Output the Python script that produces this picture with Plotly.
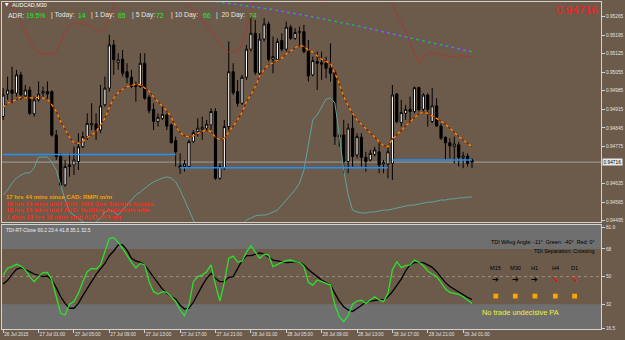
import plotly.graph_objects as go

# ---------------- DATA (AUDCAD, M30) ----------------
open_ = [0.94888,0.94973,0.94988,0.94976,0.95045,0.94966,0.94988,0.94898,0.94951,0.94976,
         0.94982,0.94982,0.94818,0.94737,0.94630,0.94699,0.94705,0.94718,0.94774,0.94812,
         0.94856,0.94860,0.94837,0.94932,0.94995,0.95158,0.95091,0.95104,0.95057,0.95036,
         0.95007,0.95001,0.95089,0.94961,0.94915,0.94869,0.94881,0.94894,0.94856,0.94797,
         0.94695,0.94699,0.94699,0.94793,0.94831,0.94840,0.94844,0.94856,0.94907,0.94655,
         0.94693,0.94850,0.95057,0.94982,0.94938,0.95036,0.95142,0.95202,0.95051,0.95180,
         0.95237,0.95104,0.95104,0.95175,0.95142,0.95225,0.95183,0.95205,0.95208,0.95133,
         0.95045,0.95095,0.95091,0.95089,0.95070,0.95054,0.94810,0.94818,0.94718,0.94844,
         0.94743,0.94810,0.94734,0.94724,0.94745,0.94755,0.94709,0.94709,0.94711,0.94973,
         0.94865,0.94900,0.94915,0.94907,0.94997,0.94915,0.94969,0.94869,0.94928,0.94852,
         0.94810,0.94789,0.94774,0.94781,0.94732,0.94739,0.94724]
high = [0.94995,0.95039,0.95076,0.95064,0.95057,0.95007,0.95001,0.94963,0.95020,0.95001,
        0.95020,0.94986,0.94837,0.94749,0.94724,0.94749,0.94774,0.94825,0.94831,0.94900,
        0.94938,0.94900,0.95007,0.95039,0.95196,0.95177,0.95127,0.95139,0.95089,0.95064,
        0.95020,0.95127,0.95127,0.94969,0.94938,0.94900,0.94932,0.94900,0.94862,0.94812,
        0.94749,0.94724,0.94800,0.94837,0.94881,0.94888,0.94875,0.94919,0.94919,0.94711,
        0.94875,0.95171,0.95089,0.95026,0.95045,0.95158,0.95265,0.95252,0.95202,0.95259,
        0.95246,0.95190,0.95183,0.95202,0.95246,0.95234,0.95221,0.95227,0.95234,0.95177,
        0.95114,0.95133,0.95133,0.95114,0.95164,0.95064,0.94825,0.94875,0.94862,0.94894,
        0.94825,0.94825,0.94755,0.94762,0.94774,0.94787,0.94724,0.94774,0.95007,0.94976,
        0.94951,0.94932,0.94963,0.95001,0.95001,0.94976,0.94976,0.94995,0.94957,0.94862,
        0.94812,0.94806,0.94812,0.94793,0.94755,0.94749,0.94730]
low = [0.94875,0.94951,0.94938,0.94963,0.94951,0.94957,0.94894,0.94888,0.94944,0.94963,
       0.94951,0.94812,0.94724,0.94623,0.94623,0.94661,0.94667,0.94686,0.94768,0.94800,
       0.94837,0.94800,0.94825,0.94925,0.94982,0.95045,0.95064,0.95039,0.95013,0.94995,
       0.94944,0.94995,0.94951,0.94900,0.94837,0.94850,0.94875,0.94837,0.94787,0.94699,
       0.94671,0.94680,0.94693,0.94787,0.94812,0.94800,0.94837,0.94837,0.94649,0.94649,
       0.94686,0.94837,0.94969,0.94925,0.94932,0.95026,0.95133,0.95045,0.95039,0.95171,
       0.95095,0.95051,0.95095,0.95133,0.95133,0.95177,0.95177,0.95152,0.95127,0.95020,
       0.95039,0.94988,0.95026,0.95032,0.95020,0.94781,0.94774,0.94674,0.94674,0.94699,
       0.94730,0.94699,0.94680,0.94718,0.94737,0.94674,0.94674,0.94655,0.94649,0.94862,
       0.94850,0.94875,0.94869,0.94900,0.94907,0.94907,0.94850,0.94862,0.94850,0.94800,
       0.94724,0.94730,0.94711,0.94699,0.94693,0.94699,0.94693]
close = [0.94969,0.94988,0.94976,0.95045,0.94969,0.94988,0.94900,0.94951,0.94973,0.94982,
         0.94973,0.94818,0.94737,0.94630,0.94699,0.94705,0.94724,0.94774,0.94812,0.94862,
         0.94862,0.94837,0.94928,0.94995,0.95158,0.95102,0.95102,0.95051,0.95036,0.95001,
         0.95001,0.95089,0.94957,0.94910,0.94869,0.94885,0.94896,0.94852,0.94789,0.94755,
         0.94703,0.94709,0.94793,0.94827,0.94844,0.94847,0.94859,0.94907,0.94655,0.94699,
         0.94850,0.95057,0.94978,0.94938,0.95036,0.95142,0.95202,0.95054,0.95180,0.95237,
         0.95104,0.95114,0.95171,0.95142,0.95225,0.95183,0.95205,0.95208,0.95133,0.95041,
         0.95099,0.95089,0.95085,0.95070,0.95051,0.94812,0.94818,0.94718,0.94844,0.94737,
         0.94812,0.94734,0.94718,0.94749,0.94762,0.94705,0.94714,0.94755,0.94969,0.94869,
         0.94903,0.94915,0.94907,0.94997,0.94913,0.94969,0.94915,0.94928,0.94852,0.94806,
         0.94789,0.94777,0.94784,0.94734,0.94739,0.94711,0.94716]

ma_fast = [0.94922,0.94938,0.94944,0.94953,0.94961,0.94958,0.94957,0.94958,0.94961,0.94958,
           0.94953,0.94932,0.94907,0.94869,0.94837,0.94810,0.94789,0.94787,0.94793,0.94810,
           0.94818,0.94831,0.94856,0.94881,0.94923,0.94957,0.94978,0.94991,0.95000,0.95006,
           0.95010,0.95008,0.94997,0.94984,0.94961,0.94944,0.94928,0.94910,0.94885,0.94852,
           0.94827,0.94815,0.94812,0.94815,0.94825,0.94833,0.94835,0.94831,0.94810,0.94800,
           0.94806,0.94831,0.94852,0.94875,0.94903,0.94944,0.94969,0.95001,0.95041,0.95066,
           0.95084,0.95090,0.95098,0.95108,0.95124,0.95137,0.95147,0.95157,0.95152,0.95139,
           0.95131,0.95117,0.95104,0.95096,0.95089,0.95051,0.95013,0.94963,0.94928,0.94900,
           0.94875,0.94859,0.94842,0.94825,0.94808,0.94793,0.94778,0.94774,0.94803,0.94821,
           0.94835,0.94852,0.94869,0.94884,0.94898,0.94905,0.94900,0.94891,0.94881,0.94871,
           0.94859,0.94845,0.94828,0.94812,0.94800,0.94787,0.94774]

band_upper = [0.95317,0.95309,0.95298,0.95275,0.95245,0.95207,0.95173,0.95147,0.95128,0.95124,
              0.95124,0.95124,0.95132,0.95169,0.95207,0.95234,0.95241,0.95241,0.95237,0.95234,
              0.95226,0.95215,0.95203,0.95222,0.95260,0.95309,0.95347,0.95373,0.95396,0.95411,
              0.95422,0.95430,0.95434,0.95434,0.95430,0.95422,0.95411,0.95396,0.95381,0.95366,
              0.95347,0.95328,0.95309,0.95290,0.95271,0.95249,0.95230,0.95211,0.95188,0.95166,
              0.95143,0.95132,0.95132,0.95135,0.95158,0.95215,0.95283,0.95336,0.95358,0.95373,
              0.95381,0.95385,0.95385,0.95381,0.95373,0.95366,0.95358,0.95351,0.95343,0.95336,
              0.95328,0.95324,0.95320,0.95320,0.95324,0.95332,0.95339,0.95351,0.95362,0.95373,
              0.95385,0.95392,0.95396,0.95392,0.95385,0.95370,0.95354,0.95336,0.95309,0.95275,
              0.95245,0.95207,0.95169,0.95120,0.95090,0.95113,0.95124,0.95128,0.95124,0.95120,
              0.95117,0.95113,0.95113,0.95117,0.95117,0.95113,0.95113]
band_lower = [0.94592,0.94611,0.94637,0.94656,0.94667,0.94675,0.94675,0.94694,0.94735,0.94735,
              0.94735,0.94716,0.94686,0.94630,0.94573,0.94528,0.94516,0.94505,0.94490,0.94479,
              0.94479,0.94490,0.94505,0.94528,0.94535,0.94528,0.94516,0.94535,0.94554,0.94573,
              0.94592,0.94603,0.94618,0.94630,0.94641,0.94649,0.94656,0.94660,0.94656,0.94641,
              0.94611,0.94573,0.94535,0.94498,0.94460,0.94422,0.94403,0.94384,0.94377,0.94384,
              0.94403,0.94422,0.94441,0.94460,0.94479,0.94498,0.94505,0.94513,0.94516,0.94516,
              0.94520,0.94528,0.94535,0.94554,0.94573,0.94592,0.94611,0.94637,0.94686,0.94781,
              0.94875,0.94894,0.94924,0.94954,0.94958,0.94939,0.94818,0.94686,0.94592,0.94535,
              0.94528,0.94524,0.94524,0.94528,0.94528,0.94531,0.94535,0.94535,0.94539,0.94543,
              0.94547,0.94550,0.94554,0.94554,0.94558,0.94562,0.94565,0.94565,0.94569,0.94573,
              0.94573,0.94577,0.94577,0.94581,0.94581,0.94584,0.94584]

slow_ma_x = [40, 50, 60, 70, 80, 90, 100, 106]
slow_ma = [0.95339, 0.95317, 0.95294, 0.95264, 0.95230, 0.95192, 0.95154, 0.95132]

day_open_start = [0, 40, 88]
day_open_end = [39, 87, 106]
day_open = [0.94745, 0.94695, 0.94724]

tdi_green = [51.0,55.6,56.5,58.0,56.9,54.3,50.0,46.7,50.0,52.6,
             52.8,47.8,36.9,26.1,25.0,32.0,33.7,39.1,46.7,53.2,
             55.4,55.0,57.6,66.7,74.9,75.4,72.3,68.4,63.6,59.3,
             55.8,58.6,57.6,46.7,40.2,38.7,40.2,39.8,36.9,33.7,
             28.3,24.6,31.5,46.7,50.0,51.0,53.2,57.6,44.5,34.1,
             46.3,61.9,63.3,59.5,60.0,66.0,70.1,65.8,61.9,64.5,
             64.1,56.5,58.0,59.3,60.4,60.8,59.7,59.3,56.5,46.3,
             44.5,47.8,46.7,45.6,44.5,31.5,23.9,20.7,24.6,32.0,
             34.1,34.6,32.6,34.8,36.9,34.8,33.7,39.1,54.3,59.7,
             55.8,57.1,57.6,60.8,59.3,57.1,53.7,51.7,50.0,46.3,
             41.9,39.8,39.1,38.5,36.9,34.8,32.5]
tdi_black = [45.2,47.6,51.5,54.7,55.8,54.7,53.2,51.7,50.6,50.0,
             50.4,47.8,42.8,36.9,32.6,29.4,29.4,32.6,37.6,42.4,
             46.7,51.5,55.0,58.6,63.6,66.7,70.6,70.6,67.3,61.9,
             60.2,59.3,57.6,53.7,50.0,45.6,41.9,39.1,36.9,35.4,
             31.5,28.9,29.4,33.3,39.1,44.1,48.9,52.1,48.9,46.7,
             46.7,49.5,50.0,55.0,60.4,63.6,63.6,64.5,65.4,64.7,
             62.5,60.8,60.2,59.7,59.1,59.3,59.7,59.3,57.6,54.7,
             52.1,50.0,47.8,46.3,44.5,39.1,34.1,30.4,28.3,27.2,
             29.4,31.5,33.3,34.1,34.6,34.8,34.8,36.9,40.2,44.1,
             48.4,53.7,57.6,59.3,59.3,59.1,57.6,56.0,53.2,49.5,
             46.1,43.5,41.7,40.2,38.0,36.5,35.1]
tdi_header = [60.2, 23.4, 41.8]
tdi_levels = [32, 50, 68]
tdi_range = [15.9, 83.6]
tdi_ticks = [16.5, 32, 50, 68, 81.9]
tdi_ticktext = ["16.5", "32", "50", "68", "81.9"]

price_range = [0.94490, 0.95320]
price_ticks = [0.94495, 0.94565, 0.94635, 0.94775, 0.94845,
               0.94915, 0.94985, 0.95055, 0.95125, 0.95195, 0.95265]

time_idx = [0, 8, 16, 24, 32, 40, 48, 56, 64, 72, 80, 88, 96, 104]
time_labels = ["26 Jul 2015", "27 Jul 01:00", "27 Jul 05:00", "27 Jul 09:00",
               "27 Jul 13:00", "27 Jul 17:00", "27 Jul 21:00", "28 Jul 01:00",
               "28 Jul 05:00", "28 Jul 09:00", "28 Jul 13:00", "28 Jul 17:00",
               "28 Jul 21:00", "29 Jul 01:00"]

adr_labels = ["ADR:", "| Today:", "| 1 Day:", "| 5 Day:", "| 10 Day:", "|  20 Day:"]
adr_values = ["19.5%", "14", "65", "72", "66", "74"]

news_lines = ["17 hrs 44 mins since CAD: RMPI m/m",
              "18 hrs 16 mins until AUD: RBA Gov Stevens Speaks",
              "18 hrs 16 mins until AUD: Building Approvals m/m",
              "1 days 19 hrs 16 mins until AUD: PPI q/q"]
news_colors = ["#F0A000", "#FF2A1A", "#FF2A1A", "#FF2A1A"]

tf_names = ["M15", "M30", "H1", "H4", "D1"]
tf_arrows = ["\u2794", "\u2794", "\u2794", "\u2798", "\u2798"]
tf_arrow_colors = ["#000000", "#000000", "#000000", "#FF0000", "#FF0000"]

# ---------------- LAYOUT HELPERS ----------------
W, H = 625, 340
ML, MR, MT, MB = 1, 23, 2, 11
PW, PH = W - ML - MR, H - MT - MB


def px(x):
    return (x - ML) / PW


def py(y):
    return (H - MB - y) / PH


BG = "#6C5B4A"
GRAYZ = "#6F6F6F"
FONT = "Liberation Sans"
bars = list(range(len(close)))

fig = go.Figure()

fig.add_trace(go.Candlestick(
    x=bars, open=open_, high=high, low=low, close=close,
    increasing=dict(line=dict(color="#000000", width=1), fillcolor="#FFFFFF"),
    decreasing=dict(line=dict(color="#000000", width=1), fillcolor="#000000"),
    whiskerwidth=0, xaxis="x", yaxis="y", hoverinfo="skip", showlegend=False))

# bands
fig.add_trace(go.Scatter(x=bars, y=band_upper, mode="lines",
                         line=dict(color="#A33A34", width=1), xaxis="x", yaxis="y", showlegend=False))
fig.add_trace(go.Scatter(x=bars, y=band_lower, mode="lines",
                         line=dict(color="#5FA3A0", width=1), xaxis="x", yaxis="y", showlegend=False))
# slow MA (purple/green)
fig.add_trace(go.Scatter(x=slow_ma_x, y=slow_ma, mode="lines",
                         line=dict(color="#8A2BE2", width=1.4), xaxis="x", yaxis="y", showlegend=False))
fig.add_trace(go.Scatter(x=slow_ma_x, y=slow_ma, mode="lines",
                         line=dict(color="#22C022", width=1.4, dash="dot"), xaxis="x", yaxis="y", showlegend=False))
# fast MA (dark red / orange dotted)
fig.add_trace(go.Scatter(x=bars, y=ma_fast, mode="lines",
                         line=dict(color="#8E1C06", width=1.2), xaxis="x", yaxis="y", showlegend=False))
fig.add_trace(go.Scatter(x=bars, y=ma_fast, mode="lines",
                         line=dict(color="#F29A12", width=1.2, dash="dot"), xaxis="x", yaxis="y", showlegend=False))
# daily open lines
for s, e, v in zip(day_open_start, day_open_end, day_open):
    fig.add_trace(go.Scatter(x=[s, e], y=[v, v], mode="lines",
                             line=dict(color="#1E90FF", width=1.5), xaxis="x", yaxis="y", showlegend=False))

# TDI
fig.add_trace(go.Scatter(x=bars, y=tdi_black, mode="lines",
                         line=dict(color="#000000", width=1.3), xaxis="x2", yaxis="y2", showlegend=False))
fig.add_trace(go.Scatter(x=bars, y=tdi_green, mode="lines",
                         line=dict(color="#2EE02E", width=1.3), xaxis="x2", yaxis="y2", showlegend=False))

shapes = []
# bid line
shapes.append(dict(type="line", xref="x domain", yref="y", x0=0, x1=1, y0=close[-1], y1=close[-1],
                   line=dict(color="#A0A0A0", width=1), layer="below"))
# TDI zones
shapes.append(dict(type="rect", xref="x2 domain", yref="y2", x0=0, x1=1, y0=tdi_levels[2], y1=tdi_range[1],
                   fillcolor=GRAYZ, line=dict(width=0), layer="below"))
shapes.append(dict(type="rect", xref="x2 domain", yref="y2", x0=0, x1=1, y0=tdi_range[0], y1=tdi_levels[0],
                   fillcolor=GRAYZ, line=dict(width=0), layer="below"))
shapes.append(dict(type="line", xref="x2 domain", yref="y2", x0=0, x1=1, y0=tdi_levels[1], y1=tdi_levels[1],
                   line=dict(color="#9C8C7A", width=1, dash="dot"), layer="below"))

ann = []


def text(x, y, s, size, color, xanchor="left", family=FONT, bold=False, bg=None):
    d = dict(x=px(x), y=py(y), xref="paper", yref="paper", text=("<b>%s</b>" % s) if bold else s,
             showarrow=False, xanchor=xanchor, yanchor="middle",
             font=dict(family=family, size=size, color=color), borderpad=0)
    if bg:
        d["bgcolor"] = bg
    ann.append(d)


# header
text(3, 5, "\u25BC", 4.5, "#FFFFFF", family="DejaVu Sans")
text(10, 5, "AUDCAD,M30", 5.4, "#FFFFFF")
adr_lab_x = [6.5, 49, 89, 130, 170, 215]
adr_val_x = [24, 76, 116, 155, 202, 248]
for s, x in zip(adr_labels, adr_lab_x):
    text(x, 15, s, 6.8, "#E6E6E6")
for s, x in zip(adr_values, adr_val_x):
    text(x, 15, s, 6.8, "#22EE22")
text(600, 10, "%.5f" % close[-1], 11.5, "#FF1A1A", xanchor="right")

# news
for k, (s, c) in enumerate(zip(news_lines, news_colors)):
    text(4, 197 + k * 6.7, s, 6.0, c, bold=True)

# TDI texts
text(4, 230, "TDI-RT-Clone %.1f %.1f %.1f %.1f %.1f" % (tdi_header[0], tdi_header[1], tdi_header[2],
                                                        tdi_black[-1], tdi_green[-1]),
     4.9, "#F0F0F0")
text(597, 241.7, "TDI WAvg Angle: -11\u00b0  Green: -40\u00b0  Red: 0\u00b0", 5.4, "#000000", xanchor="right")
text(597, 250.7, "TDI Separation: Crossing", 5.4, "#000000", xanchor="right")
tf_x = [496.5, 516, 535.7, 556.2, 575.5]
for s, a, c, x in zip(tf_names, tf_arrows, tf_arrow_colors, tf_x):
    text(x, 267.7, s, 5.6, "#000000", xanchor="center")
    text(x, 279.5, a, 8, c, xanchor="center", family="DejaVu Sans")
    shapes.append(dict(type="rect", xref="paper", yref="paper",
                       x0=px(x - 2.4), x1=px(x + 2.4), y0=py(298.5), y1=py(293.7),
                       fillcolor="#FFA500", line=dict(width=0)))
text(481.5, 312.3, "No trade undecisive PA", 7.4, "#F2F230")

# current price box on axis
ann.append(dict(x=px(603), y=close[-1], xref="paper", yref="y", text="%.5f" % close[-1], showarrow=False,
                xanchor="left", yanchor="middle", bgcolor="#E8E8E8", borderpad=0.5,
                font=dict(family=FONT, size=4.8, color="#000000")))

main_dom = [py(222), 1]
tdi_dom = [0, py(225)]
xr = [-0.27, 135.17]
axcol = "#D2D2D2"

fig.update_layout(
    width=W, height=H, margin=dict(l=ML, r=MR, t=MT, b=MB),
    paper_bgcolor=BG, plot_bgcolor=BG, showlegend=False, hovermode=False,
    shapes=shapes, annotations=ann,
    xaxis=dict(domain=[0, 1], anchor="y", range=xr, showticklabels=False, ticks="",
               showgrid=False, zeroline=False, showline=True, mirror=True, linecolor=axcol, linewidth=1,
               rangeslider=dict(visible=False), fixedrange=True),
    yaxis=dict(domain=main_dom, anchor="x", range=price_range, side="right", showgrid=False, zeroline=False,
               tickvals=price_ticks, ticktext=["%.5f" % v for v in price_ticks], ticks="outside", ticklen=3,
               tickcolor=axcol, tickfont=dict(family=FONT, size=4.8, color="#E0E0E0"),
               showline=True, mirror=True, linecolor=axcol, linewidth=1),
    xaxis2=dict(domain=[0, 1], anchor="y2", matches="x", range=xr, showgrid=False, zeroline=False,
                tickvals=time_idx, ticktext=time_labels, ticks="outside", ticklen=3, tickcolor=axcol,
                ticklabelposition="outside right",
                tickfont=dict(family=FONT, size=4.7, color="#E0E0E0"),
                showline=True, mirror=True, linecolor=axcol, linewidth=1),
    yaxis2=dict(domain=tdi_dom, anchor="x2", range=tdi_range, side="right", showgrid=False, zeroline=False,
                tickvals=tdi_ticks, ticktext=tdi_ticktext, ticks="outside", ticklen=3, tickcolor=axcol,
                tickfont=dict(family=FONT, size=4.8, color="#E0E0E0"),
                showline=True, mirror=True, linecolor=axcol, linewidth=1),
)

fig.write_html("out.html")
